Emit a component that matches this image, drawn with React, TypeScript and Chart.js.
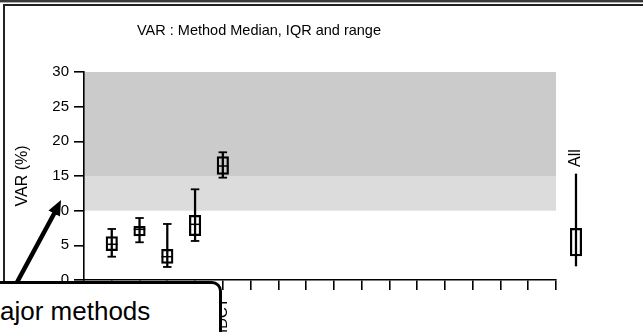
import React, { useEffect, useRef } from 'react';
import { Chart, registerables } from 'chart.js';

Chart.register(...registerables);

// ---------- data ----------
const chartTitle = 'VAR : Method Median, IQR and range';
const yAxisTitle = 'VAR (%)';
const methodLabels = ['M1', 'M2', 'M3', 'M4', 'IDCT'];
const allLabel = 'All';
const xPositions = [1, 2, 3, 4, 5, 17.72];
const whiskerMin = [3.36, 5.44, 1.88, 5.63, 14.76, 2.02];
const quartile1 = [4.23, 6.35, 2.4, 6.39, 15.24, 3.46];
const medians = [5.15, 7.31, 3.36, 8.03, 16.44, 5.38];
const quartile3 = [6.25, 7.74, 4.43, 9.33, 17.79, 7.45];
const whiskerMax = [7.36, 8.94, 8.08, 13.08, 18.42, 15.29];
const bandFrom = [10, 15];
const bandTo = [15, 30];
const bandColors = ['#dcdcdc', '#cbcbcb'];
const yMin = 0;
const yMax = 30;
const yStep = 5;
const xTickMax = 17;

const FONT = '"Liberation Sans", Arial, Helvetica, sans-serif';

const bandsPlugin = {
  id: 'bands',
  beforeDraw(chart: any) {
    const { ctx, chartArea } = chart;
    const y = chart.scales.y;
    ctx.save();
    bandFrom.forEach((from, i) => {
      const top = y.getPixelForValue(bandTo[i]);
      const bottom = y.getPixelForValue(from);
      ctx.fillStyle = bandColors[i];
      ctx.fillRect(chartArea.left, top, chartArea.right - chartArea.left, bottom - top);
    });
    ctx.restore();
  },
};

const textPlugin = {
  id: 'texts',
  afterDraw(chart: any) {
    const { ctx, chartArea } = chart;
    const xs = chart.scales.x;
    const ys = chart.scales.y;
    ctx.save();
    // title
    ctx.fillStyle = '#000';
    ctx.font = `14.5px ${FONT}`;
    ctx.textAlign = 'center';
    ctx.textBaseline = 'middle';
    ctx.fillText(chartTitle, chartArea.left + 175, 31);
    // "All" label above its whisker
    const last = xPositions.length - 1;
    const ax = xs.getPixelForValue(xPositions[last]);
    const ay = ys.getPixelForValue(whiskerMax[last]) - 7;
    ctx.translate(ax, ay);
    ctx.rotate(-Math.PI / 2);
    ctx.textAlign = 'left';
    ctx.textBaseline = 'middle';
    ctx.font = `16px ${FONT}`;
    ctx.fillText(allLabel, 0, 0);
    ctx.restore();
  },
};

export default function App() {
  const ref = useRef<HTMLCanvasElement>(null);

  useEffect(() => {
    if (!ref.current) return;
    const lastIdx = xPositions.length - 1;
    const capPoints = [
      ...xPositions.map((x, i) => ({ x, y: whiskerMin[i] })),
      ...xPositions.map((x, i) => ({ x, y: whiskerMax[i] })),
    ];
    const chart = new Chart(ref.current, {
      type: 'bar',
      data: {
        datasets: [
          {
            type: 'bar',
            label: 'range',
            data: xPositions.map((x, i) => ({ x, y: [whiskerMin[i], whiskerMax[i]] })) as any,
            backgroundColor: '#000',
            borderWidth: 0,
            barThickness: 1.6,
            grouped: false,
            clip: false as any,
          },
          {
            type: 'bar',
            label: 'IQR',
            data: xPositions.map((x, i) => ({ x, y: [quartile1[i], quartile3[i]] })) as any,
            backgroundColor: 'rgba(0,0,0,0)',
            borderColor: '#000',
            borderWidth: 1.6,
            borderSkipped: false,
            barThickness: 11.5,
            grouped: false,
            clip: false as any,
          },
          {
            type: 'scatter',
            label: 'median',
            data: xPositions.map((x, i) => ({ x, y: medians[i] })),
            pointStyle: 'line',
            pointRadius: 5.75,
            borderColor: '#000',
            backgroundColor: '#000',
            borderWidth: 1.5,
            clip: false as any,
          } as any,
          {
            type: 'scatter',
            label: 'caps',
            data: capPoints,
            pointStyle: 'line',
            pointRadius: (c: any) => (c.dataIndex % xPositions.length === lastIdx ? 5.75 : 4.25),
            borderColor: '#000',
            backgroundColor: '#000',
            borderWidth: 1.8,
            clip: false as any,
          } as any,
        ],
      },
      options: {
        animation: false,
        responsive: false,
        events: [],
        layout: { padding: { left: 0, right: 87, top: 72, bottom: 0 } },
        plugins: {
          legend: { display: false },
          tooltip: { enabled: false },
          title: { display: false },
        },
        scales: {
          x: {
            type: 'linear',
            min: 0,
            max: xTickMax,
            offset: false,
            afterFit: (s: any) => {
              s.height = 52;
            },
            afterBuildTicks: (s: any) => {
              const t = [];
              for (let v = 0; v <= xTickMax; v++) t.push({ value: v });
              s.ticks = t;
            },
            ticks: {
              autoSkip: false,
              stepSize: 1,
              minRotation: 90,
              maxRotation: 90,
              padding: 8,
              color: '#000',
              font: { family: FONT, size: 15 },
              callback: (v: any) => methodLabels[Number(v) - 1] ?? '',
            },
            grid: {
              display: true,
              drawOnChartArea: false,
              drawTicks: true,
              tickLength: 10,
              color: '#000',
              lineWidth: 1.6,
              offset: false,
            },
            border: { display: true, color: '#000', width: 1.6 },
          },
          y: {
            type: 'linear',
            min: yMin,
            max: yMax,
            afterFit: (s: any) => {
              s.width = 84;
            },
            ticks: {
              stepSize: yStep,
              padding: 5,
              color: '#000',
              font: { family: FONT, size: 15 },
            },
            grid: {
              display: true,
              drawOnChartArea: false,
              drawTicks: true,
              tickLength: 10,
              color: '#000',
              lineWidth: 1.6,
            },
            border: { display: true, color: '#000', width: 1.6 },
            title: {
              display: true,
              text: yAxisTitle,
              color: '#000',
              font: { family: FONT, size: 16 },
              padding: { top: 13, bottom: 0 },
            },
          },
        },
      },
      plugins: [bandsPlugin, textPlugin],
    } as any);
    return () => chart.destroy();
  }, []);

  return (
    <div
      style={{
        position: 'fixed',
        left: 0,
        top: 0,
        width: 643,
        height: 332,
        overflow: 'hidden',
        background: '#fff',
      }}
    >
      <canvas ref={ref} width={643} height={332} style={{ position: 'absolute', left: 0, top: 0 }} />
      {/* frame lines */}
      <div style={{ position: 'absolute', left: 0, top: 0, width: 643, height: 2, background: '#3a3a3a' }} />
      <div style={{ position: 'absolute', left: 0, top: 2, width: 643, height: 1, background: '#b0b0b0' }} />
      <div
        style={{
          position: 'absolute',
          left: 3,
          top: 4,
          width: 700,
          height: 400,
          borderTop: '2px solid #222',
          borderLeft: '2px solid #222',
          boxSizing: 'border-box',
        }}
      />
      {/* arrow */}
      <svg
        width={643}
        height={332}
        style={{ position: 'absolute', left: 0, top: 0, pointerEvents: 'none' }}
      >
        <line x1={8} y1={299} x2={55} y2={212} stroke="#000" strokeWidth={4.5} />
        <polygon points="61,200 60,216.5 48.5,210.4" fill="#000" />
      </svg>
      {/* callout */}
      <div
        style={{
          position: 'absolute',
          left: -20,
          top: 281,
          width: 242,
          height: 90,
          border: '3.5px solid #000',
          borderRadius: 10,
          background: '#fff',
          boxSizing: 'border-box',
        }}
      />
      <div
        style={{
          position: 'absolute',
          left: 0,
          top: 298,
          fontFamily: FONT,
          fontSize: 26,
          lineHeight: '27px',
          whiteSpace: 'nowrap',
          color: '#000',
        }}
      >
        ajor methods
      </div>
    </div>
  );
}
